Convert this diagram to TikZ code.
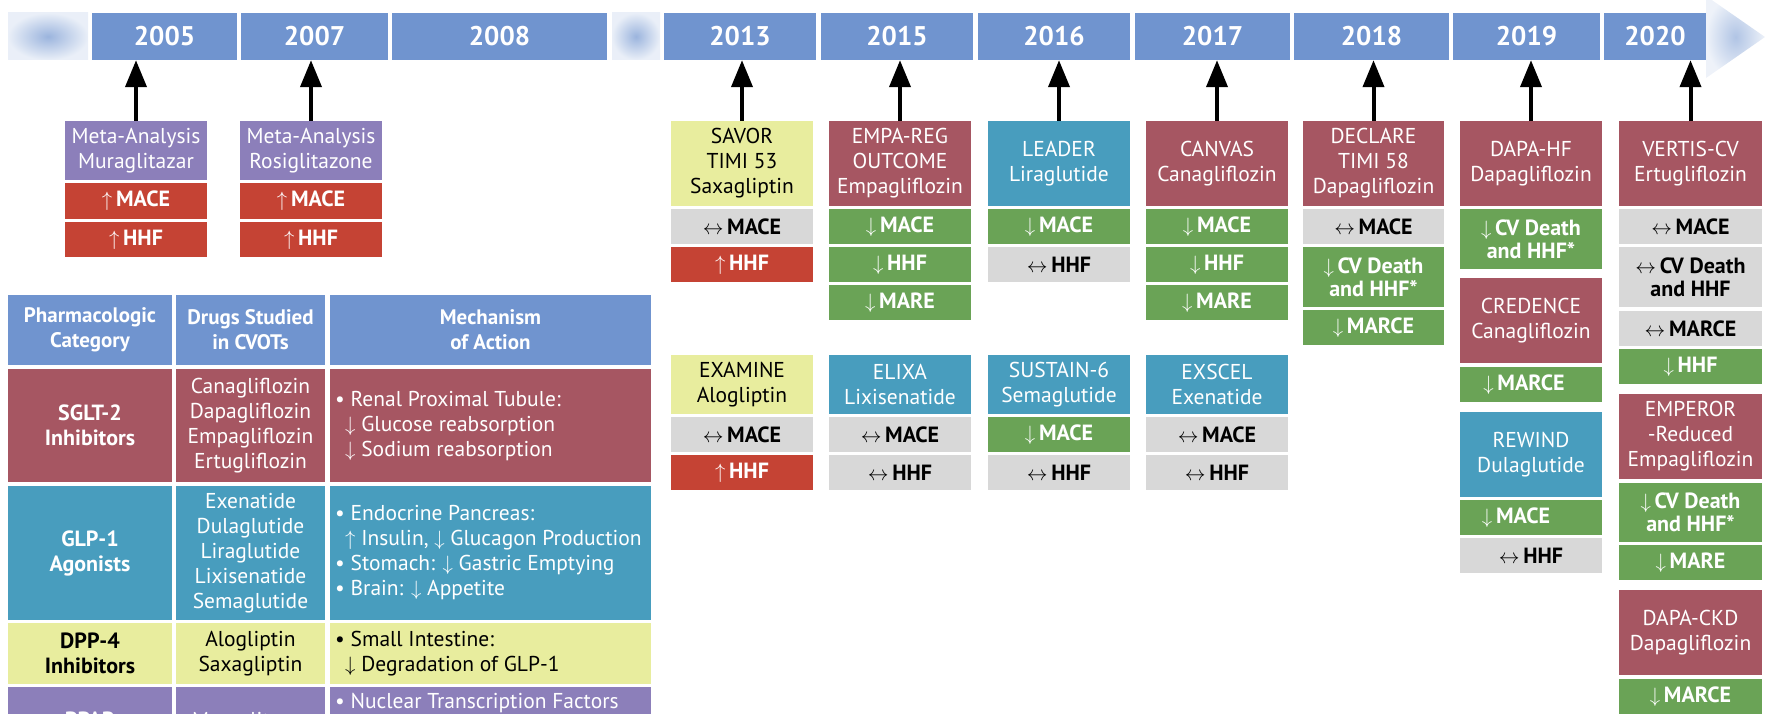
\documentclass[tikz,border=0pt]{standalone}
\usepackage{fontspec}
\setmainfont{PT Sans}
\usetikzlibrary{arrows.meta}
\definecolor{barblue}{RGB}{112,148,207}
\definecolor{sglt}{RGB}{166,86,98}
\definecolor{glp}{RGB}{72,157,190}
\definecolor{dpp}{RGB}{232,237,158}
\definecolor{ppar}{RGB}{140,127,186}
\definecolor{resred}{RGB}{197,67,52}
\definecolor{resgreen}{RGB}{106,163,86}
\definecolor{resgray}{RGB}{216,216,216}
\tikzset{
  box/.style={rectangle, inner sep=0pt, align=center, font=\fontsize{21.5}{25}\selectfont},
  tRed/.style={box, fill=sglt, text=white},
  tTeal/.style={box, fill=glp, text=white},
  tYel/.style={box, fill=dpp, text=black},
  tPur/.style={box, fill=ppar, text=white},
  res/.style={rectangle, inner sep=0pt, align=center, font=\bfseries\fontsize{22}{23}\selectfont},
  rRed/.style={res, fill=resred, text=white},
  rGreen/.style={res, fill=resgreen, text=white},
  rGray/.style={res, fill=resgray, text=black},
  yr/.style={rectangle, inner sep=0pt, fill=barblue, text=white, font=\bfseries\fontsize{27}{30}\selectfont},
  hd/.style={rectangle, inner sep=0pt, align=center, fill=barblue, text=white, font=\bfseries\fontsize{21}{25}\selectfont},
  cat/.style={rectangle, inner sep=0pt, align=center, font=\bfseries\fontsize{22}{25}\selectfont},
  drug/.style={rectangle, inner sep=0pt, align=center, font=\fontsize{21.5}{25}\selectfont},
  mech/.style={inner sep=0pt, align=left, font=\fontsize{21.5}{25}\selectfont},
  arr/.style={line width=4pt, -{Triangle[length=27pt,width=21pt]}},
}
\newcommand\bx[7]{\node[#6, minimum width={(#4-#2)*1pt}, minimum height={(#5-#3)*1pt}] (#1) at ({(#2+#4)/2},{(#3+#5)/2}) {#7};}
\newcommand\up{$\uparrow$\,}
\newcommand\dn{$\downarrow$\,}
\newcommand\eq{$\leftrightarrow$\,}
\begin{document}
\begin{tikzpicture}[x=1pt,y=-1pt]
\useasboundingbox (0,0) rectangle (1767,714);
\clip (0,0) rectangle (1767,714);
% faded elements of the time bar
\shade[inner color=barblue!70, outer color=barblue!15] (8,13) rectangle (88,60);
\shade[inner color=barblue!70, outer color=barblue!15] (612,13) rectangle (660,60);
\shade[inner color=barblue!55, outer color=barblue!12] (1706,-4) -- (1765,37) -- (1706,78) -- cycle;
% year cells
\bx{y2005}{92}{13}{237}{60}{yr}{2005}
\bx{y2007}{241}{13}{388}{60}{yr}{2007}
\bx{y2008}{392}{13}{607}{60}{yr}{2008}
\bx{y2013}{664}{13}{816}{60}{yr}{2013}
\bx{y2015}{821}{13}{973}{60}{yr}{2015}
\bx{y2016}{978}{13}{1130}{60}{yr}{2016}
\bx{y2017}{1135}{13}{1290}{60}{yr}{2017}
\bx{y2018}{1294}{13}{1449}{60}{yr}{2018}
\bx{y2019}{1453}{13}{1600}{60}{yr}{2019}
\bx{y2020}{1604}{13}{1706}{60}{yr}{2020}
% 2005
\bx{mur}{65}{121}{207}{180}{tPur}{Meta-Analysis\\Muraglitazar}
\bx{murA}{65}{183}{207}{219}{rRed}{\up MACE}
\bx{murB}{65}{222}{207}{257}{rRed}{\up HHF}
% 2007
\bx{ros}{240}{121}{382}{180}{tPur}{Meta-Analysis\\Rosiglitazone}
\bx{rosA}{240}{183}{382}{219}{rRed}{\up MACE}
\bx{rosB}{240}{222}{382}{257}{rRed}{\up HHF}
% 2013
\bx{savor}{671}{121}{813}{206}{tYel}{SAVOR\\TIMI 53\\Saxagliptin}
\bx{savorA}{671}{209}{813}{244}{rGray}{\eq MACE}
\bx{savorB}{671}{247}{813}{282}{rRed}{\up HHF}
\bx{exam}{671}{355}{813}{414}{tYel}{EXAMINE\\Alogliptin}
\bx{examA}{671}{417}{813}{452}{rGray}{\eq MACE}
\bx{examB}{671}{455}{813}{490}{rRed}{\up HHF}
% 2015
\bx{empa}{829}{121}{971}{206}{tRed}{EMPA-REG\\OUTCOME\\Empagliflozin}
\bx{empaA}{829}{209}{971}{244}{rGreen}{\dn MACE}
\bx{empaB}{829}{247}{971}{282}{rGreen}{\dn HHF}
\bx{empaC}{829}{285}{971}{320}{rGreen}{\dn MARE}
\bx{elixa}{829}{355}{971}{414}{tTeal}{ELIXA\\Lixisenatide}
\bx{elixaA}{829}{417}{971}{452}{rGray}{\eq MACE}
\bx{elixaB}{829}{455}{971}{490}{rGray}{\eq HHF}
% 2016
\bx{leader}{988}{121}{1130}{206}{tTeal}{LEADER\\Liraglutide}
\bx{leaderA}{988}{209}{1130}{244}{rGreen}{\dn MACE}
\bx{leaderB}{988}{247}{1130}{282}{rGray}{\eq HHF}
\bx{sust}{988}{355}{1130}{414}{tTeal}{SUSTAIN-6\\Semaglutide}
\bx{sustA}{988}{417}{1130}{452}{rGreen}{\dn MACE}
\bx{sustB}{988}{455}{1130}{490}{rGray}{\eq HHF}
% 2017
\bx{canvas}{1146}{121}{1288}{206}{tRed}{CANVAS\\Canagliflozin}
\bx{canvasA}{1146}{209}{1288}{244}{rGreen}{\dn MACE}
\bx{canvasB}{1146}{247}{1288}{282}{rGreen}{\dn HHF}
\bx{canvasC}{1146}{285}{1288}{320}{rGreen}{\dn MARE}
\bx{exscel}{1146}{355}{1288}{414}{tTeal}{EXSCEL\\Exenatide}
\bx{exscelA}{1146}{417}{1288}{452}{rGray}{\eq MACE}
\bx{exscelB}{1146}{455}{1288}{490}{rGray}{\eq HHF}
% 2018
\bx{declare}{1303}{121}{1444}{206}{tRed}{DECLARE\\TIMI 58\\Dapagliflozin}
\bx{declareA}{1303}{209}{1444}{244}{rGray}{\eq MACE}
\bx{declareB}{1303}{247}{1444}{307}{rGreen}{\dn CV Death\\and HHF*}
\bx{declareC}{1303}{310}{1444}{345}{rGreen}{\dn MARCE}
% 2019
\bx{dapa}{1460}{121}{1602}{206}{tRed}{DAPA-HF\\Dapagliflozin}
\bx{dapaA}{1460}{209}{1602}{269}{rGreen}{\dn CV Death\\and HHF*}
\bx{cred}{1460}{278}{1602}{363}{tRed}{CREDENCE\\Canagliflozin}
\bx{credA}{1460}{367}{1602}{402}{rGreen}{\dn MARCE\hspace{14pt}}
\bx{rewind}{1460}{412}{1602}{497}{tTeal}{REWIND\\Dulaglutide}
\bx{rewindA}{1460}{500}{1602}{535}{rGreen}{\dn MACE\hspace{30pt}}
\bx{rewindB}{1460}{538}{1602}{573}{rGray}{\eq HHF}
% 2020
\bx{vertis}{1619}{121}{1762}{206}{tRed}{VERTIS-CV\\Ertugliflozin}
\bx{vertisA}{1619}{209}{1762}{244}{rGray}{\eq MACE}
\bx{vertisB}{1619}{247}{1762}{307}{rGray}{\eq CV Death\\and HHF}
\bx{vertisC}{1619}{311}{1762}{346}{rGray}{\eq MARCE}
\bx{vertisD}{1619}{349}{1762}{384}{rGreen}{\dn HHF}
\bx{emp}{1619}{394}{1762}{479}{tRed}{EMPEROR\\-Reduced\\Empagliflozin}
\bx{empA}{1619}{483}{1762}{542}{rGreen}{\dn CV Death\\and HHF*}
\bx{empB}{1619}{545}{1762}{580}{rGreen}{\dn MARE}
\bx{ckd}{1619}{590}{1762}{675}{tRed}{DAPA-CKD\\Dapagliflozin}
\bx{ckdA}{1619}{679}{1762}{714}{rGreen}{\dn MARCE}
% arrows to the time bar
\draw[arr] (mur.north) -- (mur.north |- y2005.south);
\draw[arr] (ros.north) -- (ros.north |- y2007.south);
\draw[arr] (savor.north) -- (savor.north |- y2013.south);
\draw[arr] (empa.north) -- (empa.north |- y2015.south);
\draw[arr] (leader.north) -- (leader.north |- y2016.south);
\draw[arr] (canvas.north) -- (canvas.north |- y2017.south);
\draw[arr] (declare.north) -- (declare.north |- y2018.south);
\draw[arr] (dapa.north) -- (dapa.north |- y2019.south);
\draw[arr] (vertis.north) -- (vertis.north |- y2020.south);
% table
\bx{h1}{8}{295}{172}{365}{hd}{Pharmacologic\\Category}
\bx{h2}{176}{295}{325}{365}{hd}{Drugs Studied\\in CVOTs}
\bx{h3}{330}{295}{651}{365}{hd}{Mechanism\\of Action}
\bx{c1}{8}{369}{172}{482}{cat, fill=sglt, text=white}{SGLT-2\\Inhibitors}
\bx{d1}{176}{369}{325}{482}{drug, fill=sglt, text=white}{Canagliflozin\\Dapagliflozin\\Empagliflozin\\Ertugliflozin}
\bx{m1}{330}{369}{651}{482}{rectangle, fill=sglt}{}
\node[mech, text=white, anchor=west] (m1t) at (335,426) {• Renal Proximal Tubule:\\\hspace*{10pt}$\downarrow$ Glucose reabsorption\\\hspace*{10pt}$\downarrow$ Sodium reabsorption};
\bx{c2}{8}{486}{172}{620}{cat, fill=glp, text=white}{GLP-1\\Agonists}
\bx{d2}{176}{486}{325}{620}{drug, fill=glp, text=white}{Exenatide\\Dulaglutide\\Liraglutide\\Lixisenatide\\Semaglutide}
\bx{m2}{330}{486}{651}{620}{rectangle, fill=glp}{}
\node[mech, text=white, anchor=west] (m2t) at (335,553) {• Endocrine Pancreas:\\\hspace*{10pt}$\uparrow$ Insulin, $\downarrow$ Glucagon Production\\• Stomach: $\downarrow$ Gastric Emptying\\• Brain: $\downarrow$ Appetite};
\bx{c3}{8}{623}{172}{684}{cat, fill=dpp, text=black}{DPP-4\\Inhibitors}
\bx{d3}{176}{623}{325}{684}{drug, fill=dpp, text=black}{Alogliptin\\Saxagliptin}
\bx{m3}{330}{623}{651}{684}{rectangle, fill=dpp}{}
\node[mech, text=black, anchor=west] (m3t) at (335,654) {• Small Intestine:\\\hspace*{10pt}$\downarrow$ Degradation of GLP-1};
\bx{c4}{8}{687}{172}{760}{rectangle, fill=ppar}{}
\bx{d4}{176}{687}{325}{760}{rectangle, fill=ppar}{}
\bx{m4}{330}{687}{651}{760}{rectangle, fill=ppar}{}
\node[cat, text=white, anchor=base] (c4t) at (90,727) {PPAR};
\node[drug, text=white, anchor=base] (d4t) at (250,727) {Muraglitazar};
\node[mech, text=white, anchor=base west] (m4t) at (335,708) {• Nuclear Transcription Factors};
\end{tikzpicture}
\end{document}
